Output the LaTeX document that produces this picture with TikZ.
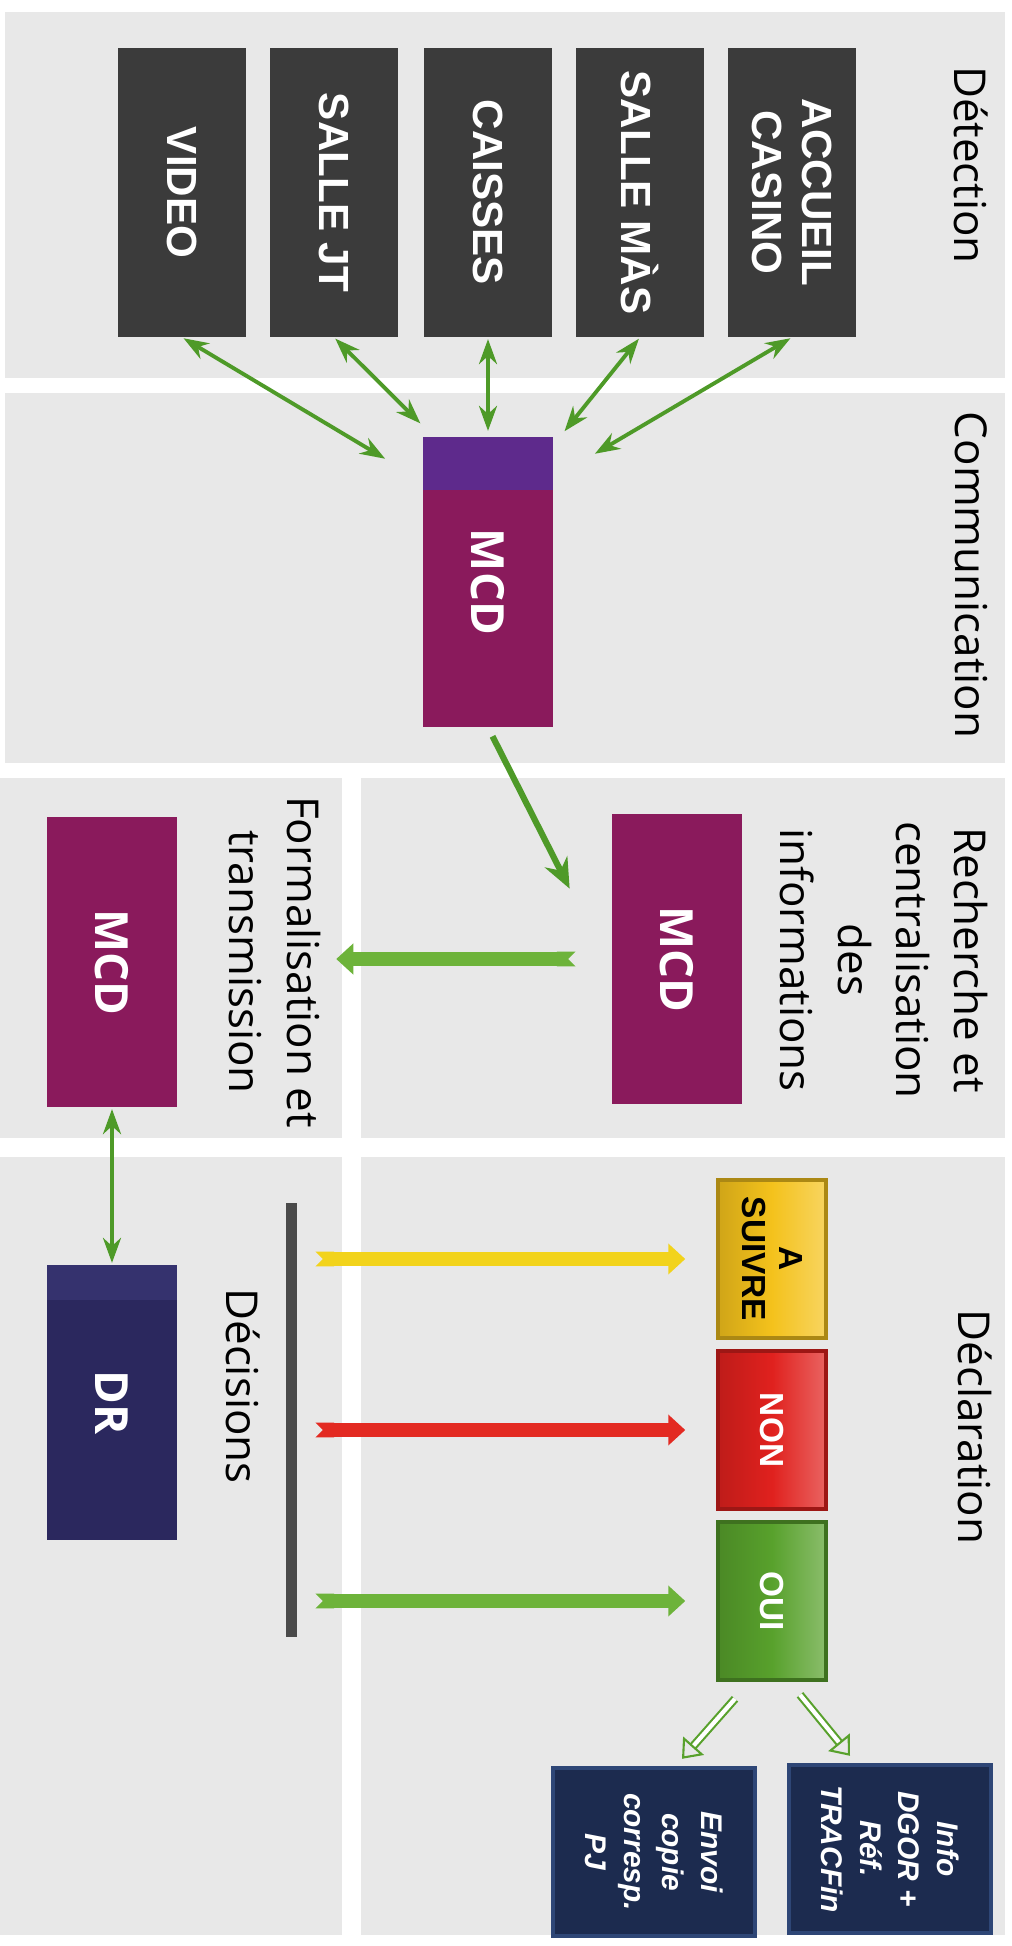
\documentclass[tikz,border=0pt]{standalone}
\usepackage{fontspec}
\setmainfont{Open Sans}
\newfontfamily\arialfont{Liberation Sans}
\usetikzlibrary{arrows.meta,calc}

\definecolor{panelgray}{HTML}{E8E8E8}
\definecolor{boxgray}{HTML}{3B3B3B}
\definecolor{mcdcol}{HTML}{8A1A5C}
\definecolor{mcdtop}{HTML}{5E2A8C}
\definecolor{drcol}{HTML}{2B285E}
\definecolor{drtop}{HTML}{35326E}
\definecolor{navybox}{HTML}{1C2B4F}
\definecolor{navyedge}{HTML}{2E4676}
\definecolor{arrgreen}{HTML}{4E9A28}
\definecolor{grnarrow}{HTML}{6DB33A}
\definecolor{yelarrow}{HTML}{F2D31B}
\definecolor{redarrow}{HTML}{E32A22}
\definecolor{yelcol}{HTML}{F4C21C}
\definecolor{redcol}{HTML}{E0211E}
\definecolor{grncol}{HTML}{58A12C}
\definecolor{barcol}{HTML}{4A4A4A}

\begin{document}
\begin{tikzpicture}[rotate=-90,transform shape,
  font=\fontsize{25}{33}\selectfont,>={Stealth[length=5mm,width=3.6mm]},
  lbl/.style={align=center,inner sep=0pt},
  det/.style={fill=boxgray,text=white,align=center,inner sep=0pt,
    font=\arialfont\bfseries\fontsize{24}{28}\selectfont,
    minimum width=5.78cm,minimum height=2.56cm},
  mcd/.style={fill=mcdcol,text=white,inner sep=0pt,
    font=\bfseries\fontsize{26}{30}\selectfont,
    minimum width=5.8cm,minimum height=2.6cm},
  dec/.style={draw=#1!70!black,line width=2pt,left color=#1!85!black,
    right color=#1!70!white,middle color=#1,align=center,inner sep=0pt,
    font=\arialfont\bfseries\fontsize{19}{21}\selectfont,
    minimum width=3.16cm,minimum height=2.16cm},
  fin/.style={fill=navybox,draw=navyedge,line width=2.5pt,text=white,
    align=center,inner sep=0pt,
    font=\arialfont\bfseries\itshape\fontsize{17}{22}\selectfont,
    minimum width=3.36cm,minimum height=4.04cm},
  biarr/.style={<->,draw=arrgreen,line width=2.2pt,shorten <=1pt,shorten >=1pt},
  thk/.style={-{Stealth[length=6mm,width=5mm]},draw=arrgreen,line width=3.5pt},
  blk/.style={draw=#1,line width=8.5pt,
    {Triangle Cap[reversed]}-{Triangle[length=3.4mm,width=6mm]}},
  hollow/.style={draw=grncol,line width=1.2pt,double=white,double distance=2.4pt,
    -{Triangle[open,length=3.5mm,width=5.5mm]}}]
  \useasboundingbox (0,0) rectangle (38.92,20.24);
  % fonds
  \fill[panelgray] (0.24,0.1) rectangle (7.56,20.1);
  \fill[panelgray] (7.86,0.1) rectangle (15.26,20.1);
  \fill[panelgray] (15.56,0) rectangle (22.76,6.84);
  \fill[panelgray] (15.56,7.22) rectangle (22.76,20.1);
  \fill[panelgray] (23.14,0) rectangle (38.7,6.84);
  \fill[panelgray] (23.14,7.22) rectangle (38.7,20.1);
  % titres
  \node[lbl] (ldet) at (3.3,19.42) {Détection};
  \node[lbl] (lcom) at (11.5,19.42) {Communication};
  \node[lbl] (lrech) at (19.2,17.68) {Recherche et\\centralisation\\des\\informations};
  \node[lbl] (lform) at (19.24,5.5) {Formalisation et\\transmission};
  \node[lbl] (ldecis) at (27.72,4.86) {Décisions};
  \node[lbl] (ldecl) at (28.54,19.5) {Déclaration};
  % détection
  \node[det] (accueil) at (3.85,15.84) {ACCUEIL\\CASINO};
  \node[det] (sallemas) at (3.85,12.80) {SALLE MÀS};
  \node[det] (caisses) at (3.85,9.76) {CAISSES};
  \node[det] (sallejt) at (3.85,6.68) {SALLE JT};
  \node[det] (video) at (3.85,3.64) {VIDEO};
  % MCD / DR
  \node[mcd] (mcd1) at (11.64,9.76) {MCD};
  \fill[mcdtop] (mcd1.south west) rectangle ($(mcd1.north west)+(1.06,0)$);
  \node[mcd] (mcd2) at (19.18,13.54) {MCD};
  \node[mcd] (mcd3) at (19.24,2.24) {MCD};
  \node[mcd,fill=drcol,minimum width=5.5cm] (dr) at (28.05,2.24) {DR};
  \fill[drtop] (dr.south west) rectangle ($(dr.north west)+(0.7,0)$);
  % décisions
  \node[fill=barcol,minimum width=8.68cm,minimum height=0.22cm,inner sep=0pt] (bar) at (28.4,5.82) {};
  \node[dec=yelcol,text=black] (asuivre) at (25.18,15.44) {A\\SUIVRE};
  \node[dec=redcol,text=white] (non) at (28.6,15.44) {NON};
  \node[dec=grncol,text=white] (oui) at (32.02,15.44) {OUI};
  \node[fin] (envoi) at (37.04,13.08) {Envoi\\copie\\corresp.\\PJ};
  \node[fin] (info) at (36.98,17.8) {Info\\DGOR +\\Réf.\\TRACFin};
  % flèches
  \draw[biarr] (video.east) -- ($(mcd1.south west)+(0.46,-0.72)$);
  \draw[biarr] (sallejt.east) -- ($(mcd1.south west)+(-0.24,-0.02)$);
  \draw[biarr] (caisses.east) -- ($(mcd1.west)+(-0.08,0)$);
  \draw[biarr] (sallemas.east) -- ($(mcd1.north west)+(-0.08,0.2)$);
  \draw[biarr] (accueil.east) -- ($(mcd1.north west)+(0.36,0.8)$);
  \draw[thk,shorten <=0.2cm] (mcd1.east) -- ($(mcd2.south west)+(1.5,-0.84)$);
  \draw[blk=grnarrow,shorten <=0.72cm,shorten >=0.3cm]
    (mcd2.south) -- ($(lform.north west)!(mcd2.south)!(lform.north east)$);
  \draw[biarr] (mcd3.east) -- (dr.west);
  \draw[blk=yelarrow,shorten <=0.37cm,shorten >=0.62cm]
    ($(bar.north west)!(asuivre)!(bar.north east)$) -- (asuivre.south);
  \draw[blk=redarrow,shorten <=0.37cm,shorten >=0.62cm]
    ($(bar.north west)!(non)!(bar.north east)$) -- (non.south);
  \draw[blk=grnarrow,shorten <=0.37cm,shorten >=0.62cm]
    ($(bar.north west)!(oui)!(bar.north east)$) -- (oui.south);
  \draw[hollow] ($(oui.east)+(0.34,-0.74)$) -- ($(envoi.west)+(-0.14,0.56)$);
  \draw[hollow] ($(oui.east)+(0.26,0.56)$) -- ($(info.west)+(-0.14,-0.8)$);
\end{tikzpicture}
\end{document}
